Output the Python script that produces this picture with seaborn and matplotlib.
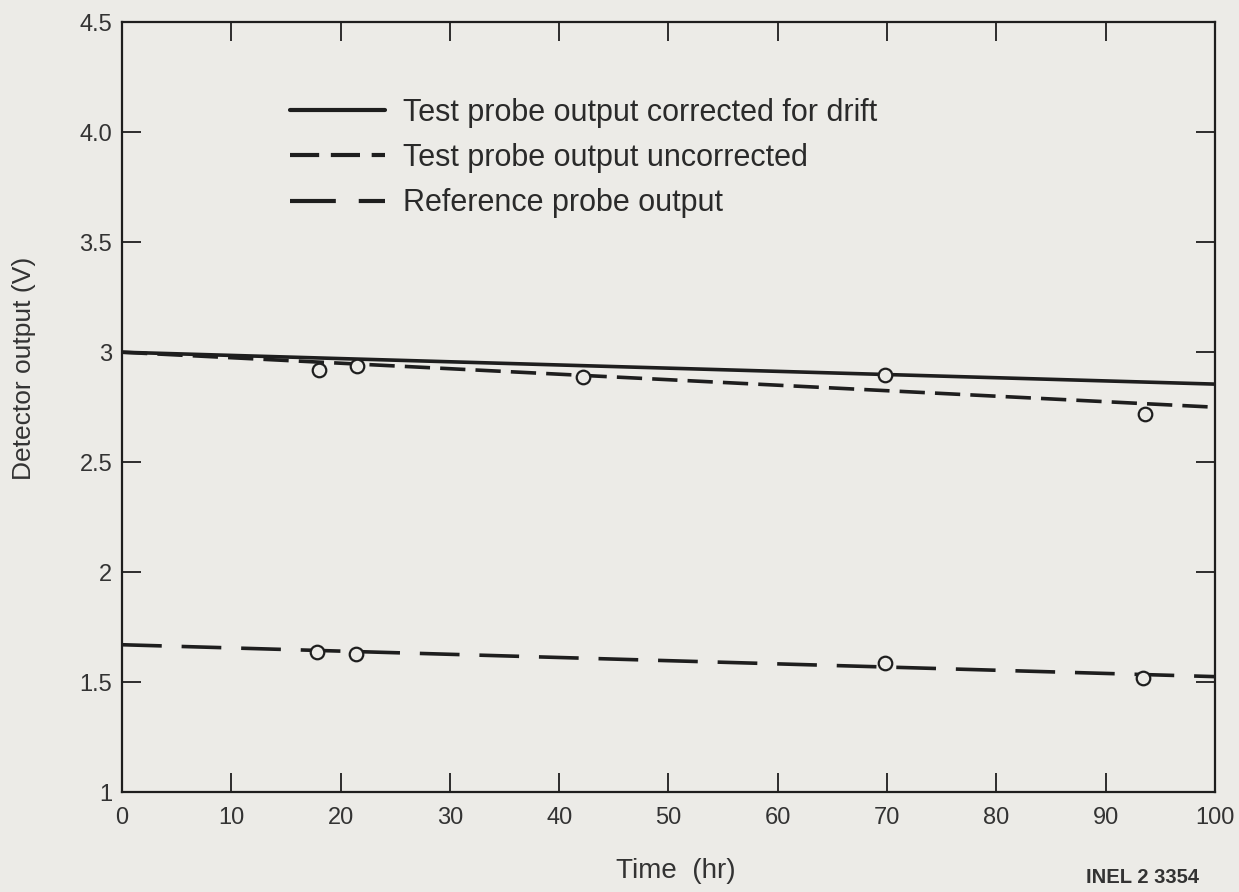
import numpy as np
import pandas as pd
import matplotlib
matplotlib.use("Agg")
import matplotlib.pyplot as plt
import seaborn as sns

sns.set_style("ticks")
plt.rcParams['font.family'] = ['Liberation Sans', 'DejaVu Sans']

# --- data --- #
fit_time = [0, 100]
corrected_fit = [3.00, 2.855]
uncorrected_fit = [3.00, 2.75]
reference_fit = [1.67, 1.525]

test_time = [18.0, 21.5, 42.2, 69.8, 93.6]
test_output = [2.918, 2.936, 2.886, 2.895, 2.72]

ref_time = [17.8, 21.4, 69.8, 93.4]
ref_output = [1.637, 1.630, 1.585, 1.518]

x_ticks = [0, 10, 20, 30, 40, 50, 60, 70, 80, 90, 100]
y_ticks = [1, 1.5, 2, 2.5, 3, 3.5, 4.0, 4.5]
y_tick_labels = ['1', '1.5', '2', '2.5', '3', '3.5', '4.0', '4.5']

series_labels = ['Test probe output corrected for drift',
                 'Test probe output uncorrected',
                 'Reference probe output']

fits = pd.DataFrame({
    'time': fit_time * 3,
    'output': corrected_fit + uncorrected_fit + reference_fit,
    'series': [s for s in series_labels for _ in fit_time],
})
points = pd.DataFrame({
    'time': test_time + ref_time,
    'output': test_output + ref_output,
})

# --- plot --- #
bg = '#ecebe7'
ink = '#1e1e1e'
txt = '#333333'
fig = plt.figure(figsize=(12.39, 8.92), dpi=100, facecolor=bg)
ax = fig.add_axes([0.0985, 0.112, 0.882, 0.863])
ax.set_facecolor(bg)

sns.lineplot(data=fits, x='time', y='output', hue='series', style='series',
             palette=[ink] * 3,
             dashes={series_labels[0]: '',
                     series_labels[1]: (7, 2.8),
                     series_labels[2]: (11, 5.5)},
             linewidth=2.6, ax=ax)
sns.scatterplot(data=points, x='time', y='output', s=95, marker='o',
                facecolor=bg, edgecolor=ink, linewidth=1.6, zorder=5,
                legend=False, ax=ax)

ax.set_xlim(0, 100)
ax.set_ylim(1, 4.5)
ax.set_xticks(x_ticks)
ax.set_yticks(y_ticks)
ax.set_yticklabels(y_tick_labels)
ax.tick_params(direction='in', length=14, width=1.3, top=True, right=True,
               labelsize=17, colors=ink, labelcolor=txt)
ax.tick_params(axis='x', pad=11)
ax.tick_params(axis='y', pad=7)
for sp in ax.spines.values():
    sp.set_linewidth(1.6)
    sp.set_color(ink)

ax.set_xlabel('Time  (hr)', fontsize=20, color=txt)
ax.set_ylabel('Detector output (V)', fontsize=19, color=txt)
ax.xaxis.set_label_coords(0.507, -0.085)
ax.yaxis.set_label_coords(-0.079, 0.55)

leg = ax.legend(loc='upper left', bbox_to_anchor=(0.154, 0.902), frameon=False,
                fontsize=22, handlelength=3.1, handletextpad=0.6,
                labelspacing=0.5, borderpad=0, borderaxespad=0)
for t in leg.get_texts():
    t.set_color('#2a2a2a')
for ln in leg.get_lines():
    ln.set_linewidth(3)

fig.text(0.922, 0.016, 'INEL 2 3354', fontsize=14.5, fontweight='bold',
         color=txt, ha='center', va='center')

fig.savefig('out.png', dpi=100, facecolor=bg)
